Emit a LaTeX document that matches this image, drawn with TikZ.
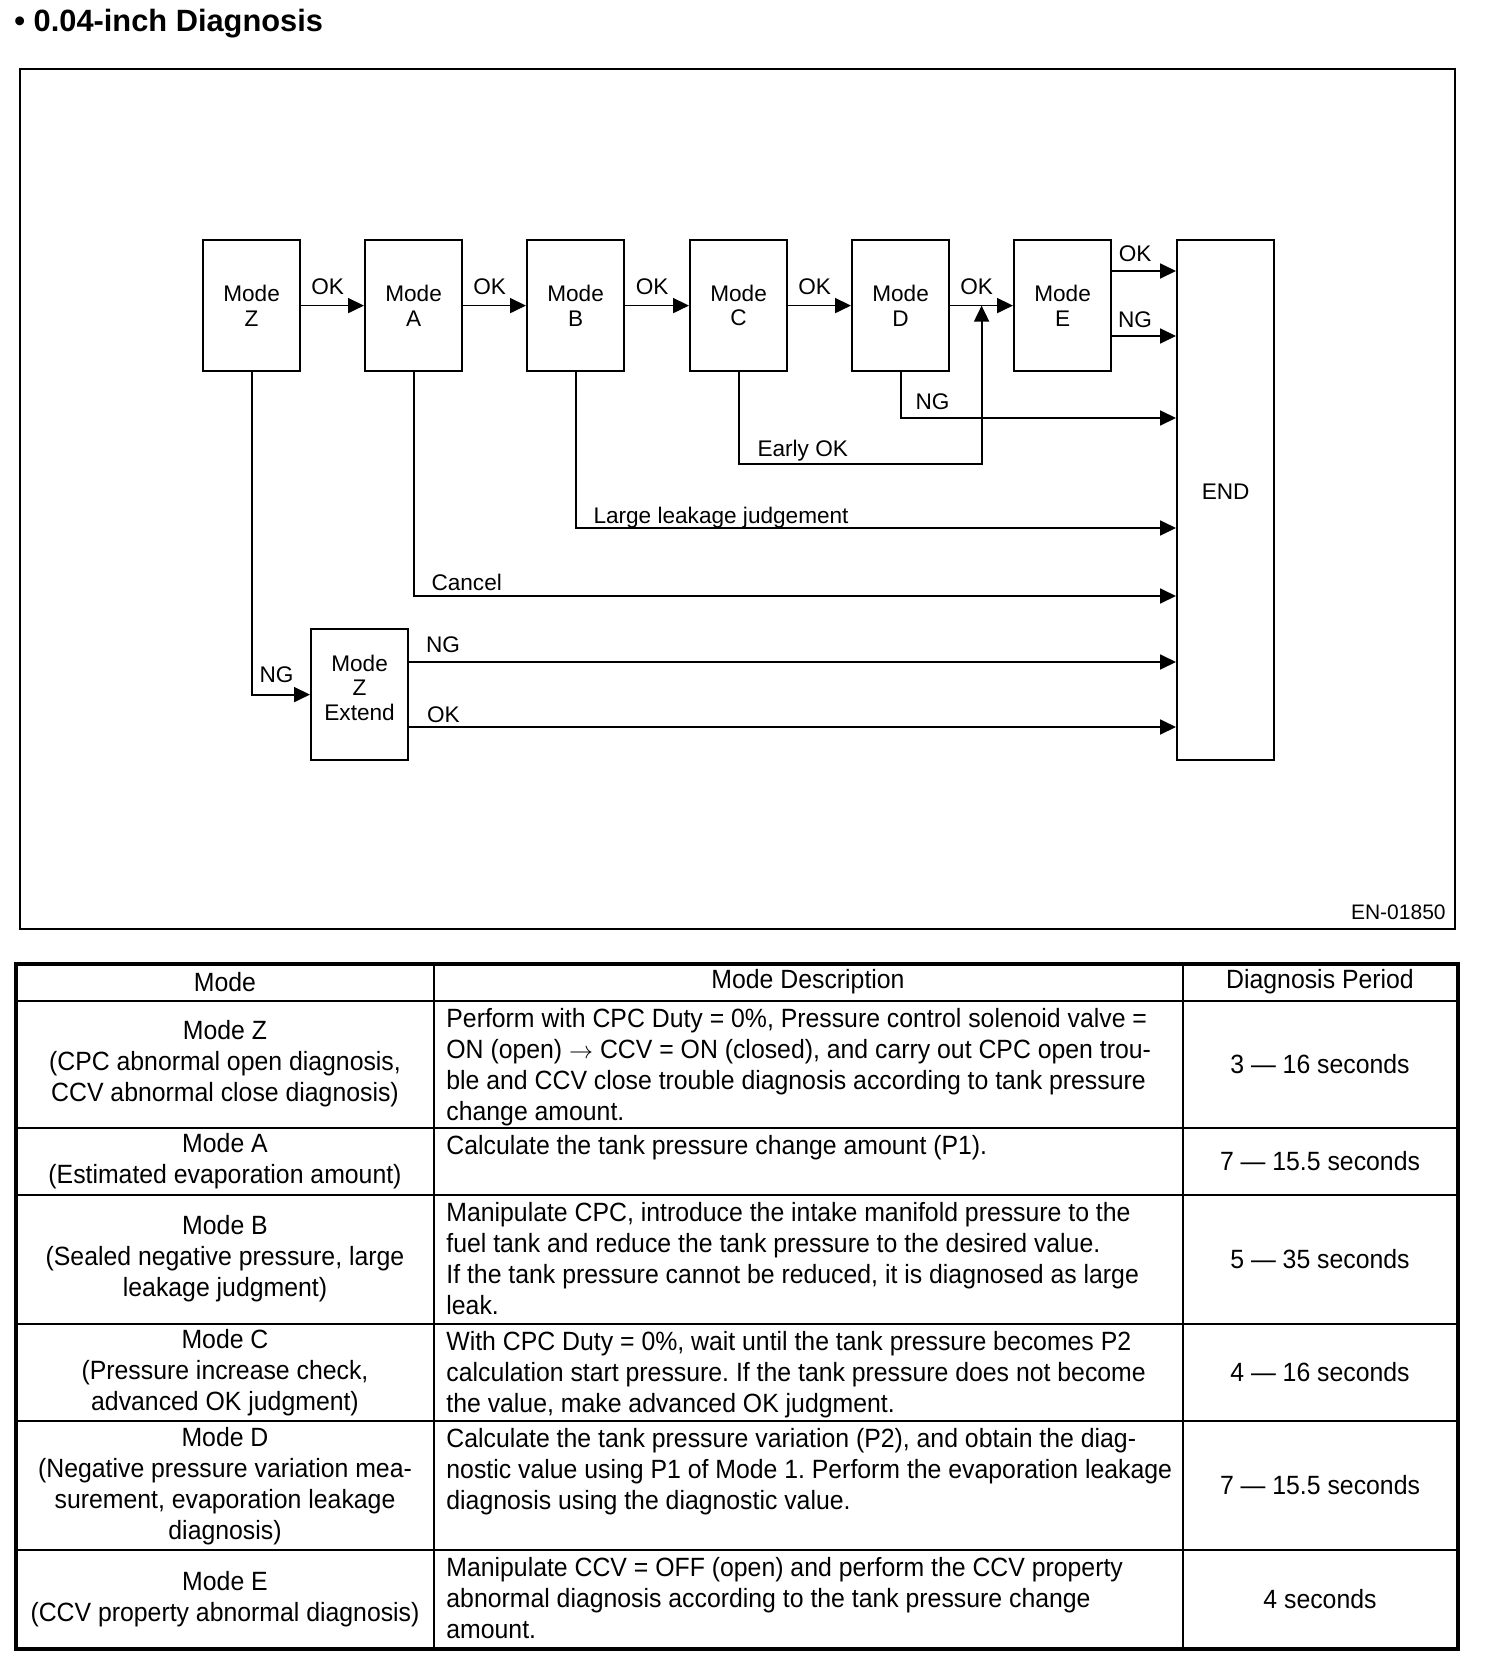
\documentclass[tikz,border=0pt]{standalone}
\usepackage{fontspec}
\setmainfont{Liberation Sans}
\newfontfamily\tabfont[FakeStretch=0.94]{Liberation Sans}
\usetikzlibrary{arrows.meta,positioning,calc}
\tikzset{
 modebox/.style={draw,line width=1.1pt,minimum width=48.5pt,minimum height=65.5pt,inner sep=0pt,align=center,font=\fontsize{11.3}{12.3}\selectfont,anchor=north west},
 arr/.style={-{Triangle[length=8pt,width=7.5pt]},line width=.9pt},
 lbl/.style={font=\fontsize{11.3}{12.3}\selectfont,inner sep=0pt},
 cell/.style={font=\tabfont\fontsize{13.2}{15.5}\selectfont\frenchspacing,inner sep=0pt},
 desc/.style={cell,align=left,anchor=north west},
 tline/.style={line width=.9pt},
 tframe/.style={line width=1.6pt}
}

\begin{document}
\begin{tikzpicture}[x=0.5pt,y=-0.5pt]
\useasboundingbox (0,0) rectangle (1504,1674);
\node[anchor=base west,inner sep=0pt,font=\bfseries\fontsize{15.4}{18}\selectfont] (title) at (14,32) {\textbullet\ 0.04-inch Diagnosis};
% Flow chart in its frame.
\draw[line width=.8pt] (20,69) rectangle (1455,929);
\foreach \n/\x/\t in {mz/202/Z,ma/364/A,mb/526/B,mc/689/C,md/851/D,me/1013/E}
 \node[modebox] (\n) at (\x,239) {\rule{0pt}{6pt}Mode\\\t};
\node[modebox,minimum height=260pt,label={[lbl,yshift=4pt]center:END}] (mend) at (1176,239) {};
\node[modebox,label={[lbl,align=center,yshift=3.5pt]center:{Mode\\Z\\Extend}}] (mzx) at (310,628) {};
\coordinate (upok) at ($(md.east)!.5!(me.west)$);
\foreach \a/\b in {mz/ma,ma/mb,mb/mc,mc/md,md/me}
 \draw[arr] (\a) -- node[lbl,anchor=base,yshift=5.4pt,xshift=-2.5pt] {OK} (\b);
\draw[arr] (me.east |- 0,271) -- node[lbl,anchor=base,yshift=4.8pt,xshift=-4.5pt] {OK} (mend.west |- 0,271);
\draw[arr] (me.east |- 0,336) -- node[lbl,anchor=base,yshift=4pt,xshift=-4.5pt] {NG} (mend.west |- 0,336);
\draw[arr] (md.south) |- node[pos=.5,lbl,anchor=base west,xshift=7pt,yshift=4.5pt] {NG} (mend.west |- 0,418);
\draw[arr] (mc.south) |- node[pos=.5,lbl,anchor=base west,xshift=9pt,yshift=4pt] {Early OK} (upok |- 0,464) -- (upok);
\draw[arr] (mb.south) |- node[pos=.5,lbl,anchor=base west,xshift=8.5pt,yshift=2.5pt] {Large leakage judgement} (mend.west |- 0,528);
\draw[arr] (ma.south) |- node[pos=.5,lbl,anchor=base west,xshift=8.5pt,yshift=3pt] {Cancel} (mend.west |- 0,596);
\draw[arr] (mz.south) |- node[pos=.5,lbl,anchor=base west,xshift=3.5pt,yshift=6pt] {NG} (mzx.west);
\draw[arr] (mzx.east |- 0,662) -- node[pos=0,lbl,anchor=base west,xshift=8pt,yshift=4.8pt] {NG} (mend.west |- 0,662);
\draw[arr] (mzx.east |- 0,727) -- node[pos=0,lbl,anchor=base west,xshift=8.5pt,yshift=2.3pt] {OK} (mend.west |- 0,727);
\node[anchor=base east,inner sep=0pt,font=\fontsize{10.5}{12}\selectfont] (figno) at (1446,919) {EN-01850};
% Table of modes.
\draw[tframe] (16,964) rectangle (1458,1649);
\foreach \y in {1001,1128,1195,1324,1421,1550}
 \draw[tline] (16,\y) -- (1458,\y);
\foreach \x in {434,1183}
 \draw[tline] (\x,964) -- (\x,1649);
\node[cell] (hmode) at (225,982) {Mode};
\node[cell] (hdesc) at (808,982) {Mode Description};
\node[cell] (hper) at (1320,982) {Diagnosis Period};
% Mode Z
\node[cell,align=center] (zmode) at (225,1064) {Mode Z\\(CPC abnormal open diagnosis,\\CCV abnormal close diagnosis)};
\node[desc] (zdesc) at (446,1008) {Perform with CPC Duty = 0\%, Pressure control solenoid valve =\\ON (open) $\rightarrow$ CCV = ON (closed), and carry out CPC open trou-\\ble and CCV close trouble diagnosis according to tank pressure\\change amount.};
\node[cell] (zper) at (1320,1064) {3 — 16 seconds};
% Mode A
\node[cell,align=center] (amode) at (225,1161) {Mode A\\(Estimated evaporation amount)};
\node[desc] (adesc) at (446,1135) {Calculate the tank pressure change amount (P1).};
\node[cell] (aper) at (1320,1161) {7 — 15.5 seconds};
% Mode B
\node[cell,align=center] (bmode) at (225,1259) {Mode B\\(Sealed negative pressure, large\\leakage judgment)};
\node[desc] (bdesc) at (446,1202) {Manipulate CPC, introduce the intake manifold pressure to the\\fuel tank and reduce the tank pressure to the desired value.\\If the tank pressure cannot be reduced, it is diagnosed as large\\leak.};
\node[cell] (bper) at (1320,1259) {5 — 35 seconds};
% Mode C
\node[cell,align=center] (cmode) at (225,1373) {Mode C\\(Pressure increase check,\\advanced OK judgment)};
\node[desc] (cdesc) at (446,1331) {With CPC Duty = 0\%, wait until the tank pressure becomes P2\\calculation start pressure. If the tank pressure does not become\\the value, make advanced OK judgment.};
\node[cell] (cper) at (1320,1372) {4 — 16 seconds};
% Mode D
\node[cell,align=center] (dmode) at (225,1486) {Mode D\\(Negative pressure variation mea-\\surement, evaporation leakage\\diagnosis)};
\node[desc] (ddesc) at (446,1428) {Calculate the tank pressure variation (P2), and obtain the diag-\\nostic value using P1 of Mode 1. Perform the evaporation leakage\\diagnosis using the diagnostic value.};
\node[cell] (dper) at (1320,1485) {7 — 15.5 seconds};
% Mode E
\node[cell,align=center] (emode) at (225,1599) {Mode E\\(CCV property abnormal diagnosis)};
\node[desc] (edesc) at (446,1557) {Manipulate CCV = OFF (open) and perform the CCV property\\abnormal diagnosis according to the tank pressure change\\amount.};
\node[cell] (eper) at (1320,1599) {4 seconds};
\end{tikzpicture}
\end{document}
